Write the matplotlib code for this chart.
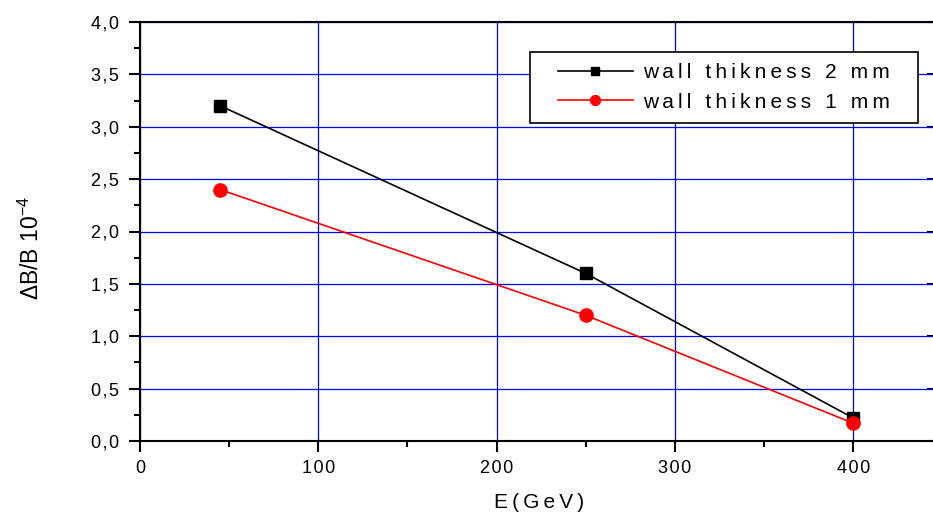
import matplotlib
matplotlib.use("Agg")
import matplotlib.pyplot as plt
from matplotlib.patches import Rectangle
from matplotlib.ticker import MultipleLocator, FuncFormatter

plt.rcParams['font.family'] = ['Liberation Sans', 'DejaVu Sans']
plt.rcParams['mathtext.fontset'] = 'custom'
plt.rcParams['mathtext.rm'] = 'Liberation Sans'
plt.rcParams['mathtext.it'] = 'Liberation Sans'

# datos
energia = [45, 250, 400]
pared_2mm = [3.2, 1.6, 0.22]
pared_1mm = [2.4, 1.2, 0.17]
etiquetas = ["wall thikness 2 mm", "wall thikness 1 mm"]


def espaciado(texto, sep="\u2009"):
    # separa un poco las letras como en el original
    return sep.join(texto)


W, H = 933, 516
fig = plt.figure(figsize=(W / 100, H / 100), dpi=100)
ax = fig.add_axes([140 / W, 75 / H, 798 / W, 419 / H])

ax.plot(energia, pared_2mm, color='black', lw=1.2, marker='s', ms=8.5,
        label=espaciado(etiquetas[0]), zorder=3)
ax.plot(energia, pared_1mm, color='red', lw=1.2, marker='o', ms=9.5,
        label=espaciado(etiquetas[1]), zorder=4)

ax.set_xlim(0, 447.6)
ax.set_ylim(0, 4.0)
ax.xaxis.set_major_locator(MultipleLocator(100))
ax.xaxis.set_minor_locator(MultipleLocator(50))
ax.yaxis.set_major_locator(MultipleLocator(0.5))
ax.yaxis.set_minor_locator(MultipleLocator(0.25))
ax.xaxis.set_major_formatter(
    FuncFormatter(lambda v, p: espaciado(f"{v:.0f}", "\u200a")))
ax.yaxis.set_major_formatter(
    FuncFormatter(lambda v, p: espaciado(f"{v:.1f}".replace('.', ','), "\u200a")))

ax.grid(True, which='major', color='#0000ff', lw=0.9)
ax.set_axisbelow(True)
for s in ax.spines.values():
    s.set_linewidth(1.5)

ax.tick_params(which='both', direction='out', width=1.5, labelsize=13,
               top=False, right=False)
ax.tick_params(which='major', length=8)
ax.tick_params(which='minor', length=4.5)
ax.tick_params(axis='y', which='major', pad=7)
ax.tick_params(axis='x', which='major', pad=6)

# marcas hacia dentro en el lado derecho (recortado)
der = ax.secondary_yaxis('right')
der.yaxis.set_major_locator(MultipleLocator(0.5))
der.tick_params(direction='in', length=8, width=1.5, labelright=False)
der.spines['right'].set_linewidth(1.5)

ax.set_xlabel(espaciado("E(GeV)"), fontsize=15, labelpad=11)
ax.set_ylabel(r"$\Delta$B/B 10$^{-4}$", fontsize=16.5)
ax.yaxis.set_label_coords((44 - 140) / 798, (441 - 248) / 419)

# caja de la leyenda en pixeles del original
x0, x1, y0, y1 = 530, 918, 52, 123
caja = Rectangle((x0 / W, 1 - y1 / H), (x1 - x0) / W, (y1 - y0) / H,
                 transform=fig.transFigure, facecolor='white',
                 edgecolor='black', lw=1.2, zorder=5)
fig.add_artist(caja)
leg = ax.legend(loc='center', fontsize=15, handlelength=3.6,
                frameon=False, borderpad=0, labelspacing=0.5,
                handletextpad=0.5, markerscale=0.75,
                bbox_to_anchor=((x0 + x1) / 2 / W, 1 - (y0 + y1) / 2 / H),
                bbox_transform=fig.transFigure)
leg.set_zorder(6)
leg.remove()
fig.add_artist(leg)

fig.savefig("out.png", dpi=100)
